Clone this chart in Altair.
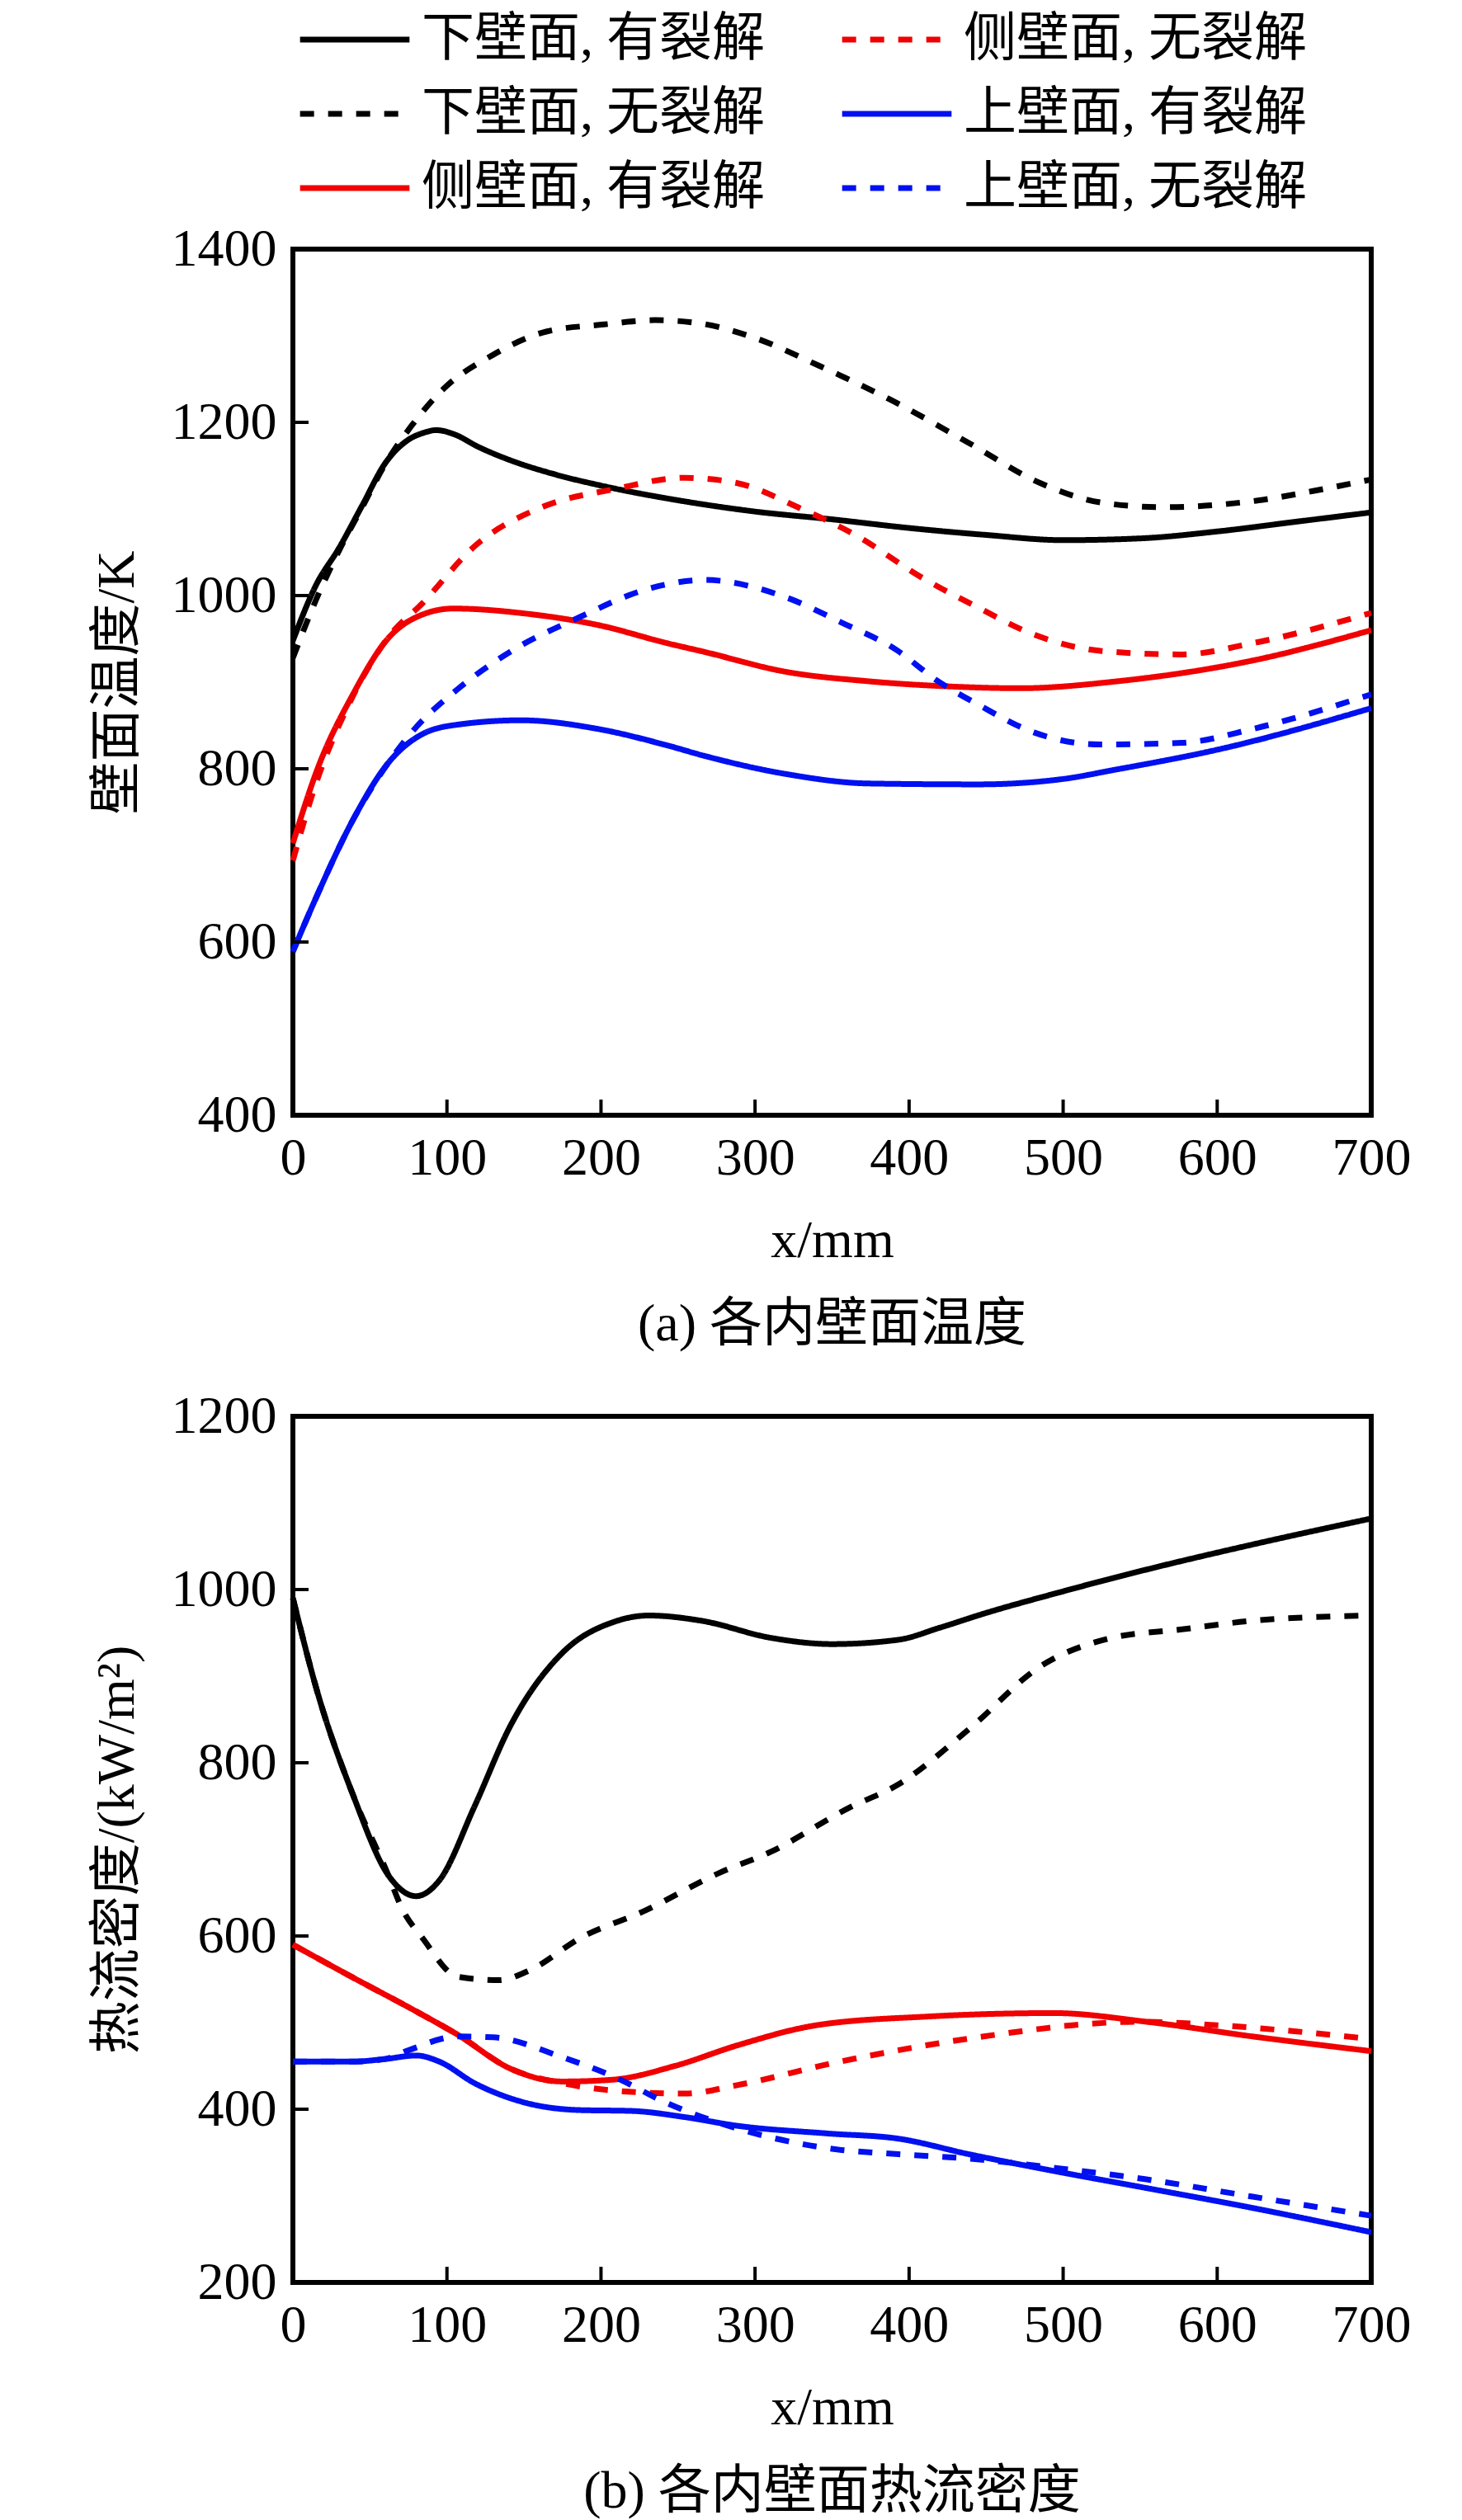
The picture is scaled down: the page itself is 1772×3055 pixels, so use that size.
import altair as alt
import pandas as pd

FONT = "Liberation Serif, Noto Sans CJK SC"

# ---- legend / series (column-major order of the 2-column legend) ----
series_names = ["下壁面, 有裂解", "下壁面, 无裂解", "侧壁面, 有裂解",
                "侧壁面, 无裂解", "上壁面, 有裂解", "上壁面, 无裂解"]
series_colors = ["#000000", "#000000", "#f00000", "#f00000", "#0010f0", "#0010f0"]
series_dash = [[1, 0], [17, 17], [1, 0], [17, 17], [1, 0], [17, 17]]

# ---- (a) wall temperature, K ----
t_xia_you_x = [0, 15, 30, 45, 60, 75, 85, 93, 105, 120, 140, 170, 200, 250, 300, 350, 400, 450, 500, 550, 600, 650, 700]
t_xia_you_y = [948, 1012, 1055, 1104, 1153, 1180, 1188, 1191, 1186, 1172, 1157, 1140, 1127, 1110, 1097, 1088, 1078, 1070, 1064, 1066, 1074, 1085, 1096]

t_xia_wu_x = [0, 15, 30, 45, 60, 77, 98, 130, 165, 202, 235, 265, 299, 342, 388, 439, 485, 526, 565, 623, 669, 700]
t_xia_wu_y = [928, 995, 1052, 1102, 1152, 1196, 1239, 1278, 1305, 1313, 1318, 1314, 1298, 1265, 1226, 1176, 1130, 1107, 1102, 1109, 1123, 1134]

t_ce_you_x = [0, 16, 39, 62, 84, 104, 152, 198, 243, 267, 320, 374, 427, 472, 535, 623, 700]
t_ce_you_y = [714, 800, 886, 951, 978, 985, 979, 966, 945, 935, 912, 901, 895, 893, 901, 925, 960]

t_ce_wu_x = [0, 12, 39, 62, 84, 118, 163, 209, 254, 288, 329, 365, 409, 445, 481, 525, 577, 623, 700]
t_ce_wu_y = [694, 767, 884, 952, 991, 1057, 1103, 1123, 1136, 1130, 1101, 1070, 1020, 986, 955, 936, 932, 945, 980]

t_shang_you_x = [0, 16, 39, 62, 84, 107, 148, 198, 243, 267, 320, 374, 445, 499, 534, 600, 700]
t_shang_you_y = [589, 655, 741, 807, 840, 851, 856, 846, 827, 815, 794, 783, 782, 788, 799, 822, 870]

t_shang_wu_x = [0, 16, 39, 62, 79, 107, 141, 186, 231, 267, 320, 356, 392, 418, 445, 481, 524, 577, 623, 700]
t_shang_wu_y = [589, 655, 741, 807, 846, 892, 935, 975, 1008, 1018, 998, 969, 937, 902, 874, 842, 828, 830, 846, 886]

# ---- (b) heat flux, kW/m2 ----
q_xia_you_x = [0, 16, 39, 62, 80, 95, 118, 141, 175, 209, 231, 265, 311, 350, 393, 420, 450, 496, 554, 623, 700]
q_xia_you_y = [990, 881, 763, 670, 646, 664, 750, 842, 927, 963, 970, 964, 944, 937, 942, 956, 973, 996, 1023, 1052, 1082]

q_xia_wu_x = [0, 16, 39, 62, 71, 84, 107, 134, 152, 188, 227, 277, 310, 361, 393, 439, 485, 531, 577, 623, 700]
q_xia_wu_y = [990, 881, 763, 670, 631, 598, 553, 549, 559, 599, 628, 673, 697, 748, 775, 839, 911, 944, 954, 964, 970]

q_ce_you_x = [0, 39, 80, 107, 141, 175, 207, 248, 289, 340, 412, 494, 554, 623, 700]
q_ce_you_y = [590, 552, 513, 486, 447, 432, 434, 450, 474, 497, 507, 511, 501, 484, 467]

q_ce_wu_x = [0, 39, 80, 107, 141, 175, 220, 254, 289, 350, 412, 473, 506, 550, 600, 650, 700]
q_ce_wu_y = [590, 552, 513, 486, 447, 430, 420, 418, 428, 453, 474, 490, 497, 501, 497, 490, 481]

q_shang_you_x = [0, 39, 60, 80, 95, 118, 152, 186, 220, 254, 288, 347, 393, 439, 496, 554, 623, 700]
q_shang_you_y = [455, 455, 458, 462, 455, 430, 407, 399, 398, 391, 381, 372, 366, 348, 328, 309, 286, 258]

q_shang_wu_x = [0, 39, 60, 75, 107, 130, 175, 209, 243, 288, 347, 393, 439, 496, 554, 623, 700]
q_shang_wu_y = [455, 455, 458, 468, 484, 483, 460, 437, 407, 378, 355, 348, 343, 332, 319, 299, 277]

# ---- axes ----
x_tick_labels = [0, 100, 200, 300, 400, 500, 600, 700]
x_inner_ticks = [100, 200, 300, 400, 500, 600]
t_tick_labels = [400, 600, 800, 1000, 1200, 1400]
t_inner_ticks = [600, 800, 1000, 1200]
q_tick_labels = [200, 400, 600, 800, 1000, 1200]
q_inner_ticks = [400, 600, 800, 1000]

W, H = 1307, 1050
TICK = 19


def long_table(pairs):
    rows = []
    for name, xs, ys in pairs:
        for a, b in zip(xs, ys):
            rows.append({"series": name, "x": a, "v": b})
    return pd.DataFrame(rows)


temp_df = long_table([
    ("下壁面, 有裂解", t_xia_you_x, t_xia_you_y),
    ("下壁面, 无裂解", t_xia_wu_x, t_xia_wu_y),
    ("侧壁面, 有裂解", t_ce_you_x, t_ce_you_y),
    ("侧壁面, 无裂解", t_ce_wu_x, t_ce_wu_y),
    ("上壁面, 有裂解", t_shang_you_x, t_shang_you_y),
    ("上壁面, 无裂解", t_shang_wu_x, t_shang_wu_y),
])
flux_df = long_table([
    ("下壁面, 有裂解", q_xia_you_x, q_xia_you_y),
    ("下壁面, 无裂解", q_xia_wu_x, q_xia_wu_y),
    ("侧壁面, 有裂解", q_ce_you_x, q_ce_you_y),
    ("侧壁面, 无裂解", q_ce_wu_x, q_ce_wu_y),
    ("上壁面, 有裂解", q_shang_you_x, q_shang_you_y),
    ("上壁面, 无裂解", q_shang_wu_x, q_shang_wu_y),
])

leg = alt.Legend(
    title=None, orient="none", legendX=5, legendY=-286, columns=2,
    symbolType="stroke", symbolSize=17600, symbolStrokeWidth=7,
    labelFont=FONT, labelFontSize=64, labelColor="black", labelOffset=11,
    clipHeight=64, rowPadding=26, columnPadding=90, labelLimit=1000,
)


def panel(df, ydomain, ylabels, yinner, ytitle, caption):
    xs = alt.Scale(domain=[0, 700], nice=False, zero=False)
    ys = alt.Scale(domain=ydomain, nice=False, zero=False)
    xaxis = alt.Axis(values=x_tick_labels, title="x/mm", format="d")
    yaxis = alt.Axis(values=ylabels, title=ytitle, format="d")
    lines = alt.Chart(df).mark_line(strokeWidth=7, interpolate="monotone").encode(
        x=alt.X("x:Q", scale=xs, axis=xaxis),
        y=alt.Y("v:Q", scale=ys, axis=yaxis),
        color=alt.Color("series:N", scale=alt.Scale(domain=series_names, range=series_colors), legend=leg),
        strokeDash=alt.StrokeDash("series:N", scale=alt.Scale(domain=series_names, range=series_dash), legend=leg),
    )
    xt = alt.Chart(pd.DataFrame({"x": x_inner_ticks})).mark_rule(color="black", strokeWidth=4).encode(
        x=alt.X("x:Q", scale=xs, axis=xaxis),
        y=alt.value(H), y2=alt.value(H - TICK),
    )
    yt = alt.Chart(pd.DataFrame({"v": yinner})).mark_rule(color="black", strokeWidth=4).encode(
        y=alt.Y("v:Q", scale=ys, axis=yaxis),
        x=alt.value(0), x2=alt.value(TICK),
    )
    return alt.layer(lines, xt, yt).properties(
        width=W, height=H,
        title=alt.TitleParams(caption, orient="bottom", frame="group", anchor="middle"),
    )


top = panel(temp_df, [400, 1400], t_tick_labels, t_inner_ticks, "壁面温度/K", "(a) 各内壁面温度")
bottom = panel(flux_df, [200, 1200], q_tick_labels, q_inner_ticks, "热流密度/(kW/m²)", "(b) 各内壁面热流密度")

chart = alt.vconcat(top, bottom, spacing=41).properties(
    padding={"left": 99, "top": 8, "right": 0, "bottom": 0},
    background="white",
).configure_view(
    stroke="black", strokeWidth=6
).configure_axis(
    grid=False, domain=False, ticks=False, labelFlush=False,
    labelFont=FONT, labelFontSize=64, labelColor="black", labelPadding=20,
    titleFont=FONT, titleFontSize=64, titleColor="black", titleFontWeight="normal",
).configure_axisX(
    titlePadding=36
).configure_axisY(
    titlePadding=33
).configure_title(
    font=FONT, fontSize=64, fontWeight="normal", color="black", offset=38
)

chart.save("out.html", embed_options={"renderer": "svg", "actions": False})
